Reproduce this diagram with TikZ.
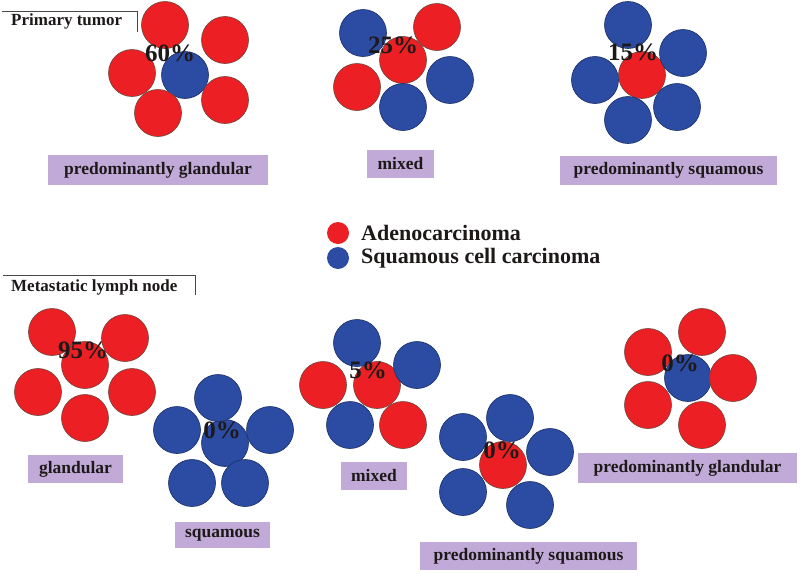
\documentclass[tikz,border=0pt]{standalone}
\usepackage{fontspec}
\setmainfont{Liberation Serif}
\definecolor{cred}{RGB}{236,32,36}
\definecolor{cblue}{RGB}{44,76,164}
\definecolor{lav}{RGB}{194,170,216}
\definecolor{ink}{RGB}{30,25,25}
\definecolor{rim}{RGB}{110,70,60}
\tikzset{
  cell/.style={circle,minimum size=47pt,inner sep=0pt,draw=rim,line width=0.6pt},
  rc/.style={cell,fill=cred},
  bc/.style={cell,fill=cblue,draw=cblue!60!black},
  pct/.style={font=\fontsize{25}{25}\selectfont\bfseries,text=ink,inner sep=0pt},
  lab/.style={rectangle,fill=lav,inner sep=0pt,font=\fontsize{17.5}{17.5}\selectfont\bfseries,text=ink},
  ttl/.style={anchor=west,inner sep=0pt,font=\fontsize{17}{17}\selectfont\bfseries,text=ink},
  leg/.style={anchor=west,inner sep=0pt,font=\fontsize{22}{22}\selectfont\bfseries,text=ink},
  bracket/.style={draw=ink!80,line width=0.9pt}
}
\begin{document}
\begin{tikzpicture}[x=1pt,y=-1pt]
\useasboundingbox[fill=white] (0,0) rectangle (800,573);
% titles
\node[ttl] (t1) at (11,21) {Primary tumor};
\coordinate (b1a) at (2,11); \coordinate (b1b) at (137,11); \coordinate (b1c) at (137,32);
\draw[bracket] (b1a) -- (b1b) -- (b1c);
\node[ttl] (t2) at (11,287) {Metastatic lymph node};
\coordinate (b2a) at (3,275); \coordinate (b2b) at (195,275); \coordinate (b2c) at (195,295);
\draw[bracket] (b2a) -- (b2b) -- (b2c);
% cluster 1: 60%
\foreach \n/\x/\y/\s in {p1c/185/75/bc,p1a/165/25/rc,p1b/225/40/rc,p1d/132/73/rc,p1e/225/100/rc,p1f/158/113/rc}
  \node[\s] (\n) at (\x,\y) {};
\node[pct] (p1t) at (170,53) {60\%};
\node[lab,minimum width=220pt,minimum height=30pt] (l1) at (158,170) {predominantly glandular};
% cluster 2: 25%
\foreach \n/\x/\y/\s in {p2c/403/60/rc,p2a/363/33/bc,p2b/437/27/rc,p2d/357/87/rc,p2e/450/80/bc,p2f/403/107/bc}
  \node[\s] (\n) at (\x,\y) {};
\node[pct] (p2t) at (393,45) {25\%};
\node[lab,minimum width=67pt,minimum height=28pt] (l2) at (400.5,164) {mixed};
% cluster 3: 15%
\foreach \n/\x/\y/\s in {p3c/642/75/rc,p3a/628/25/bc,p3b/683/53/bc,p3d/595/80/bc,p3e/677/107/bc,p3f/628/120/bc}
  \node[\s] (\n) at (\x,\y) {};
\node[pct] (p3t) at (633,52) {15\%};
\node[lab,minimum width=217pt,minimum height=29pt] (l3) at (668.5,170.5) {predominantly squamous};
% legend
\node[cell,fill=cred,draw=none,minimum size=22pt] (lr) at (338,233) {};
\node[cell,fill=cblue,draw=none,minimum size=22pt] (lb) at (338,258) {};
\node[leg] (lrt) at (361,233) {Adenocarcinoma};
\node[leg] (lbt) at (361,258) {Squamous cell carcinoma};
% cluster 4: 95%
\foreach \n/\x/\y/\s in {m1c/85/365/rc,m1a/52/332/rc,m1b/125/338/rc,m1d/38/392/rc,m1e/132/392/rc,m1f/85/418/rc}
  \node[\s] (\n) at (\x,\y) {};
\node[pct] (m1t) at (83,350) {95\%};
\node[lab,minimum width=95pt,minimum height=28pt] (n1) at (75.5,469) {glandular};
% cluster 5: 0% squamous
\foreach \n/\x/\y/\s in {m2c/225/443/bc,m2a/218/398/bc,m2b/177/430/bc,m2d/270/430/bc,m2e/192/483/bc,m2f/245/483/bc}
  \node[\s] (\n) at (\x,\y) {};
\node[pct] (m2t) at (222,430) {0\%};
\node[lab,minimum width=95pt,minimum height=26pt] (n2) at (222.5,535) {squamous};
% cluster 6: 5% mixed
\foreach \n/\x/\y/\s in {m3c/377/385/rc,m3a/357/343/bc,m3b/417/365/bc,m3d/323/385/rc,m3e/350/425/bc,m3f/403/425/rc}
  \node[\s] (\n) at (\x,\y) {};
\node[pct] (m3t) at (368,370) {5\%};
\node[lab,minimum width=66pt,minimum height=28pt] (n3) at (374,476) {mixed};
% cluster 7: 0% predominantly squamous
\foreach \n/\x/\y/\s in {m4c/503/465/rc,m4a/510/418/bc,m4b/463/437/bc,m4d/550/452/bc,m4e/463/492/bc,m4f/530/505/bc}
  \node[\s] (\n) at (\x,\y) {};
\node[pct] (m4t) at (502,450) {0\%};
\node[lab,minimum width=217pt,minimum height=28pt] (n4) at (528.5,556) {predominantly squamous};
% cluster 8: 0% predominantly glandular
\foreach \n/\x/\y/\s in {m5c/688/378/bc,m5a/648/352/rc,m5b/702/332/rc,m5d/733/378/rc,m5e/648/405/rc,m5f/702/425/rc}
  \node[\s] (\n) at (\x,\y) {};
\node[pct] (m5t) at (680,363) {0\%};
\node[lab,minimum width=219pt,minimum height=30pt] (n5) at (687.5,468) {predominantly glandular};
\end{tikzpicture}
\end{document}
